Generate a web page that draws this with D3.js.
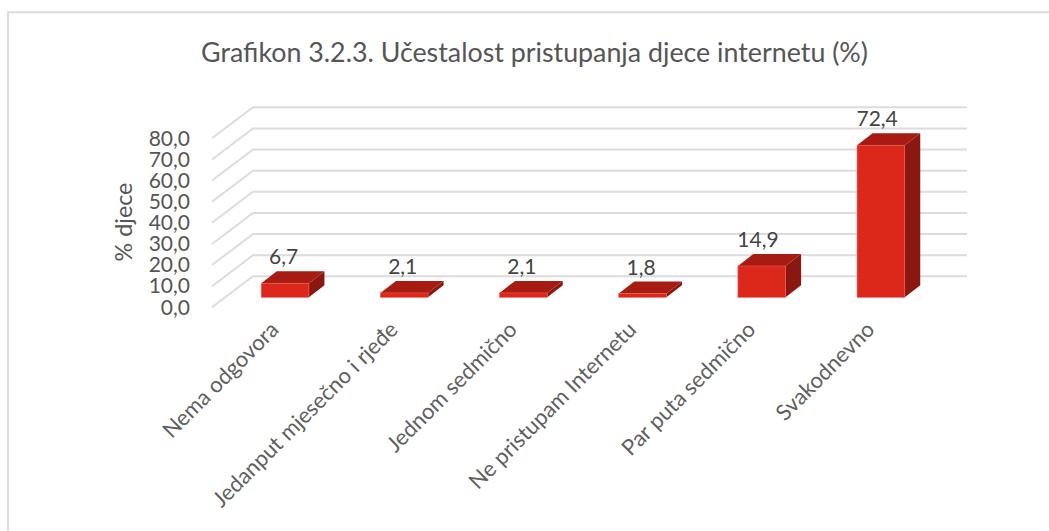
<!DOCTYPE html>
<html><head><meta charset="utf-8">
<script src="https://cdn.jsdelivr.net/npm/d3@7"></script>
<style>html,body{margin:0;padding:0;background:#fff}svg{display:block}</style>
</head><body><div id="c"></div>
<script>
const categories = ["Nema odgovora","Jedanput mjesečno i rjeđe","Jednom sedmično","Ne pristupam Internetu","Par puta sedmično","Svakodnevno"];
const values = [6.7,2.1,2.1,1.8,14.9,72.4];
const valueLabels = ["6,7","2,1","2,1","1,8","14,9","72,4"];
const yTicks = [0,10,20,30,40,50,60,70,80];
const fmt = d => d.toFixed(1).replace(".", ",");
const W=1049,H=531;
const svg=d3.select("#c").append("svg").attr("width",W).attr("height",H);
svg.append("path").attr("d",`M8 ${H}V12.3H${W}`).attr("fill","none").attr("stroke","#dcdcdc").attr("stroke-width",2);
svg.append("text").attr("x",534.5).attr("y",62).attr("text-anchor","middle").attr("font-family","Lato").attr("font-size",26.8).attr("fill","#555").text("Grafikon 3.2.3. Učestalost pristupanja djece internetu (%)");

const y=d3.scaleLinear().domain([0,80]).range([276.3,107.3]);
const x=d3.scaleBand().domain(categories).range([225.5,940.5]).paddingInner(0.6).paddingOuter(0.3);
const wallDX=41,wallDY=31, backX=253, backEnd=967;
const grid=svg.append("g").attr("fill","none").attr("stroke","#dcdcdc").attr("stroke-width",2);
yTicks.forEach(t=>{
  grid.append("path").attr("d",`M${backX-wallDX} ${y(t)+wallDY}L${backX} ${y(t)}H${backEnd}`);
});
const yAxis=d3.axisLeft(y.copy().range([y(0)+wallDY,y(80)+wallDY])).tickValues(yTicks).tickFormat(fmt).tickSize(0).tickPadding(0);
const gy=svg.append("g").attr("transform","translate(190,0)").call(yAxis);
gy.select(".domain").remove();
gy.selectAll("text").attr("font-family","Lato").attr("font-size",21).attr("fill","#555");
svg.append("text").attr("transform","translate(132,222) rotate(-90)").attr("text-anchor","middle").attr("font-family","Lato").attr("font-size",23.3).attr("fill","#555").text("% djece");

const base=297.3, dx=15.5, dy=12, k=2.1;
const h=d3.scaleLinear().domain([0,80]).range([0,80*k]);
const bars=svg.selectAll(".b").data(categories).join("g");
bars.each(function(c,i){
  const g=d3.select(this),x0=x(c),w=x.bandwidth(),t=base-h(values[i]);
  const off=valueLabels[i].length>3?-3.8:-1.5;
  g.append("path").attr("d",`M${x0+w} ${base}L${x0+w+dx} ${base-dy}V${t-dy}L${x0+w} ${t}Z`).attr("fill","#8a1710");
  g.append("path").attr("d",`M${x0} ${t}L${x0+dx} ${t-dy}H${x0+w+dx}L${x0+w} ${t}Z`).attr("fill","#a61c12");
  g.append("rect").attr("x",x0).attr("y",t).attr("width",w).attr("height",h(values[i])).attr("fill","#dc281a").attr("stroke","#ee5a50").attr("stroke-width",0.6);
  g.append("text").attr("x",x0+w/2+off).attr("y",t-dy-7).attr("text-anchor","middle").attr("font-family","Lato").attr("font-size",21).attr("fill","#444").text(valueLabels[i]);
  g.append("text").attr("transform",`translate(${x0+w/2-5},331) rotate(-45)`).attr("text-anchor","end").attr("font-family","Lato").attr("font-size",22).attr("fill","#5f5f5f").text(c);
});
</script></body></html>
